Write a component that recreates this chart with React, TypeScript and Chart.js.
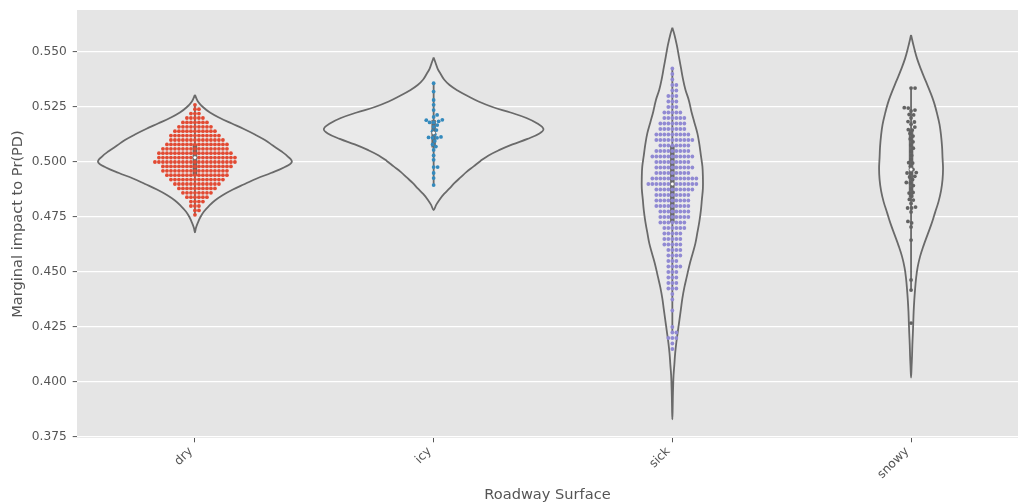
import React, { useEffect, useRef } from "react";
import { Chart, registerables } from "chart.js";

Chart.register(...registerables);

// ---------------- data ----------------
const categories = ["dry", "icy", "sick", "snowy"];
const yTicks = [0.375, 0.4, 0.425, 0.45, 0.475, 0.5, 0.525, 0.55];

// swarm points (value levels with counts, or single values)
const dryLevels = [0.476, 0.478, 0.48, 0.482, 0.484, 0.486, 0.488, 0.49, 0.492, 0.494, 0.496, 0.498, 0.5, 0.502, 0.504, 0.506, 0.508, 0.51, 0.512, 0.514, 0.516, 0.518, 0.52, 0.522, 0.524, 0.526];
const dryCounts = [1, 2, 3, 4, 6, 8, 10, 12, 14, 16, 17, 18, 21, 20, 19, 17, 16, 14, 13, 11, 9, 7, 5, 3, 2, 1];

const icyValues = [0.4895, 0.4927, 0.495, 0.4977, 0.4977, 0.501, 0.503, 0.5055, 0.507, 0.508, 0.5095, 0.511, 0.511, 0.5112, 0.5114, 0.5125, 0.514, 0.5145, 0.516, 0.5168, 0.518, 0.518, 0.5185, 0.519, 0.5192, 0.5205, 0.5214, 0.5236, 0.526, 0.5282, 0.532, 0.5358];

const sickLevels = [0.415, 0.4175, 0.42, 0.4225, 0.425, 0.4325, 0.4375, 0.44, 0.4425, 0.445, 0.4475, 0.45, 0.4525, 0.455, 0.4575, 0.46, 0.4625, 0.465, 0.4675, 0.47, 0.4725, 0.475, 0.4775, 0.48, 0.4825, 0.485, 0.4875, 0.49, 0.4925, 0.495, 0.4975, 0.5, 0.5025, 0.505, 0.5075, 0.51, 0.5125, 0.515, 0.5175, 0.52, 0.5225, 0.525, 0.5275, 0.53, 0.5325, 0.535, 0.5375, 0.54, 0.5425];
const sickCounts = [1, 1, 3, 2, 1, 1, 1, 1, 3, 3, 3, 3, 4, 3, 4, 4, 5, 5, 5, 6, 7, 8, 8, 9, 9, 9, 10, 13, 12, 9, 10, 9, 11, 9, 8, 10, 9, 7, 7, 6, 5, 3, 3, 3, 2, 2, 1, 1, 1];

const snowyValues = [0.4268, 0.4418, 0.4464, 0.4645, 0.4705, 0.4723, 0.473, 0.4773, 0.4791, 0.4791, 0.4795, 0.4812, 0.4827, 0.483, 0.4845, 0.4859, 0.4862, 0.4878, 0.4893, 0.4905, 0.4907, 0.492, 0.4932, 0.4935, 0.495, 0.495, 0.4952, 0.4966, 0.498, 0.4995, 0.4997, 0.5012, 0.503, 0.5048, 0.5063, 0.5077, 0.5092, 0.5105, 0.5118, 0.513, 0.5145, 0.5147, 0.5159, 0.5172, 0.5182, 0.5184, 0.52, 0.5214, 0.5216, 0.5232, 0.5236, 0.5245, 0.5247, 0.5336, 0.5336];

// violin density profiles: value levels and relative density (0..1)
const dryViolinLevels = [0.468, 0.47, 0.4725, 0.475, 0.4775, 0.48, 0.4825, 0.485, 0.4875, 0.49, 0.4925, 0.495, 0.4975, 0.5, 0.5025, 0.505, 0.5075, 0.51, 0.5125, 0.515, 0.5175, 0.52, 0.5225, 0.525, 0.5275, 0.5305];
const dryViolinDensity = [0, 0.01, 0.031, 0.057, 0.093, 0.144, 0.206, 0.289, 0.392, 0.515, 0.639, 0.784, 0.918, 1, 0.959, 0.887, 0.804, 0.722, 0.619, 0.505, 0.381, 0.258, 0.155, 0.082, 0.031, 0];

const icyViolinLevels = [0.4782, 0.4805, 0.483, 0.4855, 0.488, 0.4905, 0.493, 0.4955, 0.498, 0.5005, 0.503, 0.5055, 0.508, 0.5105, 0.513, 0.515, 0.5175, 0.52, 0.5225, 0.525, 0.5275, 0.53, 0.5325, 0.535, 0.5375, 0.54, 0.5425, 0.545, 0.5475];
const icyViolinDensity = [0, 0.023, 0.055, 0.095, 0.145, 0.191, 0.245, 0.3, 0.364, 0.427, 0.5, 0.6, 0.718, 0.855, 0.964, 1, 0.945, 0.845, 0.7, 0.536, 0.409, 0.309, 0.218, 0.145, 0.095, 0.064, 0.036, 0.018, 0];

const sickViolinLevels = [0.383, 0.388, 0.393, 0.398, 0.403, 0.408, 0.413, 0.418, 0.423, 0.428, 0.433, 0.438, 0.443, 0.448, 0.453, 0.458, 0.463, 0.468, 0.473, 0.478, 0.483, 0.488, 0.493, 0.498, 0.503, 0.508, 0.513, 0.518, 0.523, 0.528, 0.533, 0.538, 0.543, 0.548, 0.553, 0.558, 0.561];
const sickViolinDensity = [0, 0.01, 0.016, 0.026, 0.039, 0.066, 0.092, 0.131, 0.18, 0.23, 0.279, 0.328, 0.393, 0.475, 0.557, 0.656, 0.754, 0.82, 0.885, 0.934, 0.967, 1, 1, 0.984, 0.934, 0.885, 0.82, 0.721, 0.623, 0.541, 0.426, 0.344, 0.279, 0.213, 0.148, 0.066, 0];

const snowyViolinLevels = [0.402, 0.407, 0.412, 0.417, 0.422, 0.427, 0.432, 0.437, 0.442, 0.447, 0.452, 0.457, 0.462, 0.467, 0.472, 0.477, 0.482, 0.487, 0.492, 0.497, 0.502, 0.507, 0.512, 0.517, 0.522, 0.527, 0.532, 0.537, 0.542, 0.547, 0.552, 0.5577];
const snowyViolinDensity = [0, 0.016, 0.031, 0.041, 0.056, 0.069, 0.081, 0.1, 0.125, 0.156, 0.203, 0.281, 0.391, 0.516, 0.641, 0.75, 0.859, 0.938, 0.984, 1, 0.984, 0.969, 0.938, 0.891, 0.813, 0.719, 0.594, 0.453, 0.313, 0.188, 0.094, 0];

// ---------------- style ----------------
const violinMaxHalfWidth = [0.406, 0.46, 0.128, 0.134]; // category units
const pointColors = ["#E24A33", "#348ABD", "#918AD3", "#626262"];
const GRAY = "#6a6a6a";
const FONT = "'DejaVu Sans', sans-serif";
const TXT = "#555555";

function expand(levels: number[], counts: number[]) {
  const out: number[] = [];
  levels.forEach((v, i) => {
    for (let k = 0; k < counts[i]; k++) out.push(v);
  });
  return out;
}

const groups = [
  expand(dryLevels, dryCounts),
  icyValues,
  expand(sickLevels, sickCounts),
  snowyValues,
];

const violinLevels = [dryViolinLevels, icyViolinLevels, sickViolinLevels, snowyViolinLevels];
const violinDensity = [dryViolinDensity, icyViolinDensity, sickViolinDensity, snowyViolinDensity];

function violinOutline(idx: number) {
  const ls = violinLevels[idx];
  const ds = violinDensity[idx];
  const hw = violinMaxHalfWidth[idx];
  const right = ls.map((y, k) => ({ x: idx + ds[k] * hw, y }));
  const left = ls.map((y, k) => ({ x: idx - ds[k] * hw, y }));
  // right side top -> bottom, then left side bottom -> top (tips shared)
  return right.slice().reverse().concat(left.slice(1));
}

function quantile(sorted: number[], q: number) {
  const pos = (sorted.length - 1) * q;
  const a = Math.floor(pos);
  const b = Math.ceil(pos);
  return sorted[a] + (sorted[b] - sorted[a]) * (pos - a);
}

function boxStats(values: number[]) {
  const s = values.slice().sort((a, b) => a - b);
  const q25 = quantile(s, 0.25);
  const q50 = quantile(s, 0.5);
  const q75 = quantile(s, 0.75);
  const iqr = q75 - q25;
  const h1 = Math.min(...s.filter((v) => v >= q25 - 1.5 * iqr));
  const h2 = Math.max(...s.filter((v) => v <= q75 + 1.5 * iqr));
  return { q25, q50, q75, h1, h2 };
}

function beeswarm(values: number[], idx: number, xs: any, ys: any, d: number) {
  const cx = xs.getPixelForValue(idx);
  const pts = values
    .map((v) => ({ v, py: ys.getPixelForValue(v) }))
    .sort((a, b) => a.v - b.v);
  const placed: { px: number; py: number }[] = [];
  const out: { x: number; y: number }[] = [];
  for (const p of pts) {
    const nb = placed.filter((q) => Math.abs(q.py - p.py) < d);
    const cands = [0];
    for (const q of nb) {
      const dx = Math.sqrt(d * d - (q.py - p.py) * (q.py - p.py));
      cands.push(q.px + dx, q.px - dx);
    }
    cands.sort((a, b) => Math.abs(a) - Math.abs(b));
    let chosen = 0;
    for (const c of cands) {
      if (nb.every((q) => (q.px - c) ** 2 + (q.py - p.py) ** 2 >= d * d - 1e-6)) {
        chosen = c;
        break;
      }
    }
    placed.push({ px: chosen, py: p.py });
    out.push({ x: xs.getValueForPixel(cx + chosen), y: p.v });
  }
  return out;
}

const plotBg = {
  id: "plotBg",
  beforeDraw(chart: any) {
    const { ctx, chartArea } = chart;
    ctx.save();
    ctx.fillStyle = "#E5E5E5";
    ctx.fillRect(chartArea.left, chartArea.top, chartArea.right - chartArea.left, chartArea.bottom - chartArea.top);
    ctx.restore();
  },
};

export default function App() {
  const ref = useRef<HTMLCanvasElement | null>(null);
  useEffect(() => {
    const canvas = ref.current;
    if (!canvas) return;
    const datasets: any[] = [];
    const swarmIdx: number[] = [];
    groups.forEach((vals, i) => {
      const st = boxStats(vals);
      datasets.push({
        type: "scatter",
        data: [{ x: i, y: st.q50 }],
        pointRadius: 1.9,
        pointBackgroundColor: "#ffffff",
        pointBorderColor: GRAY,
        pointBorderWidth: 0.8,
        order: 0,
      });
      swarmIdx.push(datasets.length);
      datasets.push({
        type: "scatter",
        data: [],
        pointRadius: 1.9,
        pointBackgroundColor: pointColors[i],
        pointBorderWidth: 0,
        order: 1,
      });
      datasets.push({
        type: "line",
        data: [{ x: i, y: st.q25 }, { x: i, y: st.q75 }],
        borderColor: GRAY,
        borderWidth: 4.5,
        borderCapStyle: "butt",
        pointRadius: 0,
        fill: false,
        order: 2,
      });
      datasets.push({
        type: "line",
        data: [{ x: i, y: st.h1 }, { x: i, y: st.h2 }],
        borderColor: GRAY,
        borderWidth: 1.8,
        pointRadius: 0,
        fill: false,
        order: 3,
      });
      datasets.push({
        type: "line",
        data: violinOutline(i),
        borderColor: GRAY,
        borderWidth: 1.8,
        backgroundColor: "#EAEAEA",
        pointRadius: 0,
        fill: "shape",
        tension: 0.4,
        order: 4,
      });
    });

    const chart = new Chart(canvas, {
      type: "scatter",
      data: { datasets },
      plugins: [plotBg],
      options: {
        animation: false,
        responsive: false,
        devicePixelRatio: 1,
        events: [],
        layout: { autoPadding: false, padding: { top: 10, right: 0, left: 0, bottom: 0 } },
        plugins: { legend: { display: false }, tooltip: { enabled: false } },
        scales: {
          x: {
            type: "linear",
            min: -0.494,
            max: 3.448,
            afterBuildTicks: (s: any) => {
              s.ticks = categories.map((_, i) => ({ value: i }));
            },
            afterFit: (s: any) => {
              s.height = 66;
              s.paddingLeft = 0;
              s.paddingRight = 0;
            },
            ticks: {
              callback: (v: any) => categories[Math.round(Number(v))] ?? "",
              minRotation: 45,
              maxRotation: 45,
              autoSkip: false,
              color: TXT,
              font: { family: FONT, size: 12.2 },
              padding: 2,
              labelOffset: -4,
            },
            grid: {
              drawOnChartArea: false,
              drawTicks: true,
              tickLength: 4.3,
              tickColor: TXT,
              tickWidth: 1,
            },
            border: { display: false },
            title: {
              display: true,
              text: "Roadway Surface",
              color: TXT,
              font: { family: FONT, size: 14.6 },
              padding: { top: 0, bottom: 0 },
            },
          },
          y: {
            type: "linear",
            min: 0.37455,
            max: 0.5691,
            afterBuildTicks: (s: any) => {
              s.ticks = yTicks.map((v) => ({ value: v }));
            },
            afterFit: (s: any) => {
              s.width = 77;
              s.paddingTop = 0;
              s.paddingBottom = 0;
            },
            ticks: {
              callback: (v: any) => Number(v).toFixed(3),
              color: TXT,
              font: { family: FONT, size: 12.2 },
              padding: 6,
            },
            grid: {
              color: "#ffffff",
              lineWidth: 1.2,
              tickColor: TXT,
              tickLength: 4.3,
              tickWidth: 1,
            },
            border: { display: false },
            title: {
              display: true,
              text: "Marginal impact to Pr(PD)",
              color: TXT,
              font: { family: FONT, size: 14.6 },
              padding: { top: 9, bottom: 0 },
            },
          },
        },
      } as any,
    });

    const xs = chart.scales.x;
    const ys = chart.scales.y;
    groups.forEach((vals, i) => {
      chart.data.datasets[swarmIdx[i]].data = beeswarm(vals, i, xs, ys, 4.0) as any;
    });
    chart.update();

    return () => chart.destroy();
  }, []);

  return (
    <div style={{ position: "absolute", left: 0, top: 0, width: 1018, height: 504, background: "#fff" }}>
      <canvas ref={ref} width={1018} height={504} style={{ width: 1018, height: 504, display: "block" }} />
    </div>
  );
}
